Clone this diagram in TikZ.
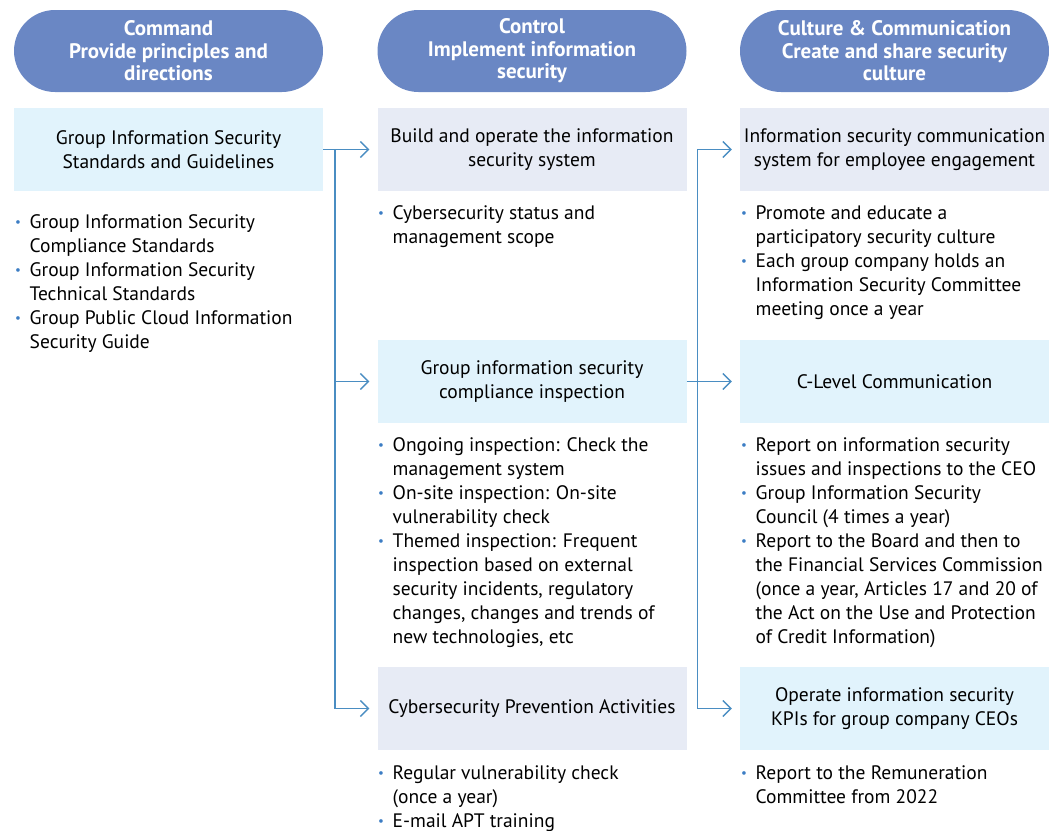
\documentclass[tikz,border=0pt]{standalone}
\usepackage{fontspec}
\setmainfont{PT Sans}
\usetikzlibrary{arrows.meta}
\definecolor{headblue}{HTML}{6A87C4}
\definecolor{skyfill}{HTML}{E1F3FC}
\definecolor{lavfill}{HTML}{E7EBF5}
\definecolor{linkblue}{HTML}{4A8DC2}
\definecolor{dotblue}{HTML}{3C7DC4}
\newcommand{\bodyfont}{\fontsize{19.5}{24}\selectfont}
\newcommand{\headfont}{\fontsize{21}{22.5}\selectfont\bfseries}
\newcommand{\bul}{\makebox[15.5pt][l]{\hspace{1pt}\raisebox{1.5pt}{\textcolor{dotblue}{\fontsize{13}{13}\selectfont\textbullet}}}}
\newcommand{\cnt}{\hspace*{15.5pt}}

\begin{document}
\begin{tikzpicture}[x=1pt, y=-1pt,
  head/.style={fill=headblue, rounded corners=41pt, minimum width=309pt, minimum height=82pt,
    text=white, font=\headfont, align=center, inner sep=0pt},
  topic/.style={minimum width=309pt, minimum height=83pt, align=center, inner sep=0pt, font=\bodyfont},
  skybox/.style={topic, fill=skyfill},
  lavbox/.style={topic, fill=lavfill},
  notes/.style={anchor=base west, align=left, inner sep=0pt, font=\bodyfont},
  link/.style={draw=linkblue, line width=1.3pt},
  arrowlink/.style={link, -{Straight Barb[length=8pt,width=16pt,line width=1.3pt]}, shorten >=8pt}]
  \useasboundingbox (0,0) rectangle (1049,830);

  % column heads
  \node[head] (command) at (168.5,51) {Command\\Provide principles and\\directions};
  \node[head] (control) at (532,51) {Control\\Implement information\\security};
  \node[head] (culture) at (894.5,51) {Culture \& Communication\\Create and share security\\culture};

  % command column (notes placed by the baseline of their last line)
  \node[skybox] (standards) at (168.5,149.5) {Group Information Security\\Standards and Guidelines};
  \node[notes] (stdnotes) at (14,348) {\bul Group Information Security\\\cnt Compliance Standards\\
    \bul Group Information Security\\\cnt Technical Standards\\
    \bul Group Public Cloud Information\\\cnt Security Guide};

  % control column
  \node[lavbox] (build) at (532,149.5) {Build and operate the information\\security system};
  \node[notes] (buildnotes) at (377,243) {\bul Cybersecurity status and\\\cnt management scope};
  \node[skybox] (inspect) at (532,381.5) {Group information security\\compliance inspection};
  \node[notes] (inspnotes) at (377,643) {\bul Ongoing inspection: Check the\\\cnt management system\\
    \bul On-site inspection: On-site\\\cnt vulnerability check\\
    \bul Themed inspection: Frequent\\\cnt inspection based on external\\\cnt security incidents, regulatory\\
    \cnt changes, changes and trends of\\\cnt new technologies, etc};
  \node[lavbox] (prevent) at (532,708.5) {Cybersecurity Prevention Activities};
  \node[notes] (prevnotes) at (377,827) {\bul Regular vulnerability check\\\cnt (once a year)\\
    \bul E-mail APT training};

  % culture column
  \node[lavbox] (engage) at (894.5,149.5) {Information security communication\\system for employee engagement};
  \node[notes] (engnotes) at (740,315) {\bul Promote and educate a\\\cnt participatory security culture\\
    \bul Each group company holds an\\\cnt Information Security Committee\\\cnt meeting once a year};
  \node[skybox] (clevel) at (894.5,381.5) {C-Level Communication};
  \node[notes] (clnotes) at (740,643) {\bul Report on information security\\\cnt issues and inspections to the CEO\\
    \bul Group Information Security\\\cnt Council (4 times a year)\\
    \bul Report to the Board and then to\\\cnt the Financial Services Commission\\
    \cnt (once a year, Articles 17 and 20 of\\\cnt the Act on the Use and Protection\\\cnt of Credit Information)};
  \node[skybox] (kpi) at (894.5,708.5) {Operate information security\\KPIs for group company CEOs};
  \node[notes] (kpinotes) at (740,803) {\bul Report to the Remuneration\\\cnt Committee from 2022};

  % connectors
  \coordinate (busA) at (335,149.5);
  \coordinate (busB) at (697.5,381.5);
  \draw[link] (standards.east) -- (busA);
  \draw[arrowlink] (busA) -- (build.west);
  \draw[arrowlink] (busA) |- (inspect.west);
  \draw[arrowlink] (busA) |- (prevent.west);
  \draw[link] (inspect.east) -- (busB);
  \draw[arrowlink] (busB) -- (clevel.west);
  \draw[arrowlink] (busB) |- (engage.west);
  \draw[arrowlink] (busB) |- (kpi.west);
\end{tikzpicture}
\end{document}
